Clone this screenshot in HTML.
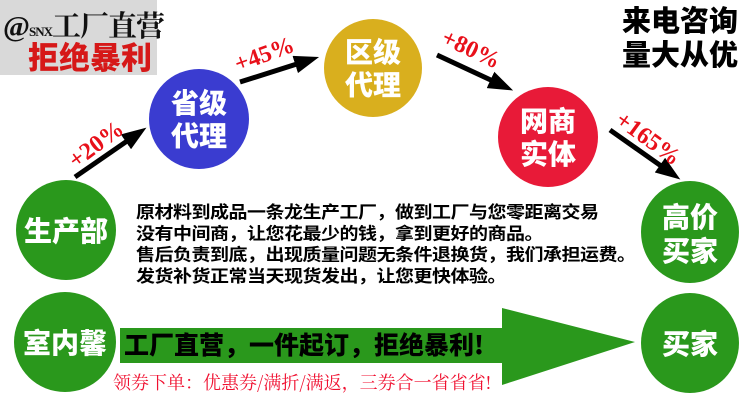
<!DOCTYPE html>
<html><head><meta charset="utf-8"><style>
body{margin:0;width:750px;height:400px;background:#fff;overflow:hidden;position:relative;font-family:"Liberation Sans","Noto Sans CJK SC",sans-serif}
.a{position:absolute;white-space:nowrap}
</style></head><body>
<div class="a" style="left:0;top:0;width:157px;height:75px;background:#d9d9d9"></div>
<div class="a" style="left:3px;top:4px;font:bold 29px 'Liberation Serif','Noto Serif CJK SC',serif;color:#111;letter-spacing:-1px">@<span style="font-size:13px">SNX</span>工厂直营</div>
<div class="a" style="left:28px;top:38px;font:900 31px 'Noto Sans CJK SC',sans-serif;color:#d61818;line-height:36px">拒绝暴利</div>
<div class="a" style="left:622px;top:2px;font:900 29px 'Noto Sans CJK SC',sans-serif;line-height:34px;color:#000">来电咨询<br>量大从优</div>
<svg class="a" style="left:0;top:0" width="750" height="400">
<defs><marker id="m" markerWidth="5" markerHeight="3.6" refX="1" refY="1.8" orient="auto" markerUnits="strokeWidth"><path d="M0,0 L5,1.8 L0,3.6 Z" fill="#000"/></marker></defs>
<g stroke="#000" stroke-width="5" marker-end="url(#m)">
<line x1="75" y1="177" x2="130" y2="139"/>
<line x1="240" y1="82" x2="300" y2="63"/>
<line x1="437" y1="55" x2="495" y2="82"/>
<line x1="610" y1="130" x2="664" y2="168"/>
</g>
<g fill="#e8101a" font-family="Liberation Serif,serif" font-weight="bold" font-size="24">
<text transform="translate(76,169) rotate(-37)">+20%</text>
<text transform="translate(238,72) rotate(-20)">+45%</text>
<text transform="translate(440,43) rotate(25)">+80%</text>
<text transform="translate(614,123) rotate(36)">+165%</text>
</g>
<circle cx="199" cy="119" r="50" fill="#3a3cd0"/>
<circle cx="373" cy="68" r="49" fill="#d9af1e"/>
<circle cx="548" cy="137" r="50" fill="#e81a38"/>
<ellipse cx="66" cy="230" rx="50" ry="50" fill="#2a981c"/>
<ellipse cx="690" cy="232" rx="49" ry="51" fill="#2a981c"/>
<ellipse cx="65" cy="342" rx="51" ry="50" fill="#2a981c"/>
<ellipse cx="690" cy="343" rx="49" ry="50" fill="#2a981c"/>
<path d="M120,328 L502,328 L502,308 L635,342 L502,385 L502,363 L120,363 Z" fill="#2a981c"/>
<g fill="#fff" font-family="Noto Sans CJK SC,sans-serif" font-weight="900" font-size="28" text-anchor="middle">
<text x="199" y="113">省级</text><text x="199" y="146">代理</text>
<text x="373" y="62">区级</text><text x="373" y="95">代理</text>
<text x="548" y="131">网商</text><text x="548" y="164">实体</text>
<text x="66" y="241">生产部</text>
<text x="690" y="227">高价</text><text x="690" y="261">买家</text>
<text x="65" y="353">室内馨</text>
<text x="690" y="354">买家</text>
</g>
</svg>
<div class="a" style="left:136px;top:201px;font:bold 19px 'Noto Sans CJK SC',sans-serif;line-height:23.5px;color:#000;letter-spacing:-0.5px;transform:scaleY(0.9);transform-origin:0 0">原材料到成品一条龙生产工厂，做到工厂与您零距离交易<br>没有中间商，让您花最少的钱，拿到更好的商品。<br>售后负责到底，出现质量问题无条件退换货，我们承担运费。<br>发货补货正常当天现货发出，让您更快体验。</div>
<div class="a" style="left:124px;top:328px;font:900 25px 'Noto Sans CJK SC',sans-serif;color:#000;line-height:32px">工厂直营，一件起订，拒绝暴利!</div>
<div class="a" style="left:113px;top:371px;font:18px 'Noto Serif CJK SC',serif;color:#f01030;line-height:22px">领券下单：优惠券/满折/满返，三券合一省省省!</div>
</body></html>
